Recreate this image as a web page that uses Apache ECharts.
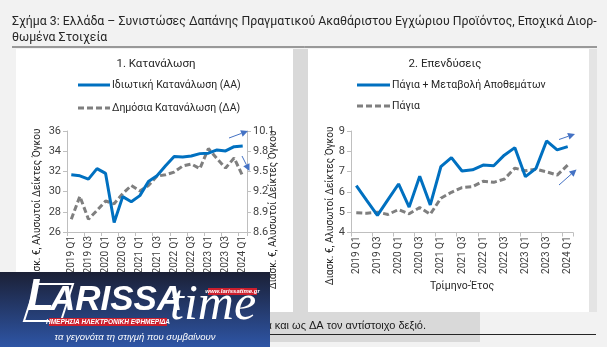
<!DOCTYPE html>
<html>
<head>
<meta charset="utf-8">
<script src="https://cdn.jsdelivr.net/npm/echarts@6/dist/echarts.min.js"></script>
<style>
html,body{margin:0;padding:0;background:#f2f2f2;}
#main{width:607px;height:347px;}
</style>
</head>
<body>
<div id="main"></div>
<script>
// ---- Data ----
var quarters = ['2019 Q1','2019 Q2','2019 Q3','2019 Q4','2020 Q1','2020 Q2','2020 Q3','2020 Q4',
  '2021 Q1','2021 Q2','2021 Q3','2021 Q4','2022 Q1','2022 Q2','2022 Q3','2022 Q4',
  '2023 Q1','2023 Q2','2023 Q3','2023 Q4','2024 Q1'];
var privateConsumption = [31.66,31.56,31.23,32.28,31.8,26.95,29.5,29.0,29.6,31.0,31.58,32.55,33.47,33.43,33.53,33.76,33.8,34.13,34.03,34.45,34.52];
var publicConsumption = [8.79,9.13,8.79,8.92,9.06,9.02,9.17,9.29,9.21,9.29,9.43,9.45,9.49,9.58,9.61,9.54,9.84,9.69,9.55,9.70,9.43];
var fixedPlusInventories = [6.31,5.57,4.84,5.62,6.39,5.25,6.77,5.36,7.24,7.69,7.03,7.09,7.32,7.29,7.81,8.18,6.75,7.16,8.51,8.07,8.23];
var fixedInvestment = [4.97,4.95,5.0,4.89,5.13,4.92,5.23,4.90,5.69,5.98,6.21,6.26,6.52,6.47,6.63,7.17,7.04,7.12,6.99,6.83,7.32];
var leftTicks = [26,28,30,32,34,36];
var rightTicks = [8.6,8.9,9.2,9.5,9.8,10.1];
var invTicks = [4,5,6,7,8,9];

var seriesNames = ['Ιδιωτική Κατανάλωση (ΑΑ)','Δημόσια Κατανάλωση (ΔΑ)','Πάγια + Μεταβολή Αποθεμάτων','Πάγια'];

var FONT = 'Roboto';
var TXT = '#404040';
var BLUE = '#0070C0';
var GRAY = '#7F7F7F';
var ARROW = '#4472C4';
var axisLineCol = '#BFBFBF';
var DASH = [6,3];

function catAxis(gi){
  return {
    type:'category', gridIndex:gi, data:quarters, boundaryGap:true,
    axisLine:{show:true,lineStyle:{color:axisLineCol,width:1}},
    axisTick:{show:true,interval:1,length:4,lineStyle:{color:axisLineCol}},
    axisLabel:{interval:1,rotate:90,fontSize:10,color:TXT,fontFamily:FONT,margin:4},
    splitLine:{show:false}
  };
}
function valAxis(gi,ticks,pos,dec){
  return {
    type:'value', gridIndex:gi, position:pos,
    min:ticks[0], max:ticks[ticks.length-1], interval:+(ticks[1]-ticks[0]).toFixed(2),
    axisLine:{show:true,lineStyle:{color:axisLineCol,width:1}},
    axisTick:{show:true,length:4,lineStyle:{color:axisLineCol}},
    axisLabel:{fontSize:11,color:TXT,fontFamily:FONT,margin:6,
      formatter:function(v){return dec?v.toFixed(1):String(Math.round(v));}},
    splitLine:{show:false}
  };
}

function arrow(x1,y1,x2,y2){
  var dx=x2-x1, dy=y2-y1, L=Math.sqrt(dx*dx+dy*dy), ux=dx/L, uy=dy/L;
  var hl=7, hw=3.5;
  var bx=x2-ux*hl, by=y2-uy*hl;
  return [
    {type:'line',z:50,shape:{x1:x1,y1:y1,x2:bx,y2:by},style:{stroke:ARROW,lineWidth:1}},
    {type:'polygon',z:50,shape:{points:[[x2,y2],[bx-uy*hw,by+ux*hw],[bx+uy*hw,by-ux*hw]]},style:{fill:ARROW}}
  ];
}
function legendItem(x1,x2,y,name,color,dash){
  var st={stroke:color,lineWidth:3};
  if(dash) st.lineDash=dash;
  return [
    {type:'line',z:5,shape:{x1:x1,y1:y,x2:x2,y2:y},style:st},
    {type:'text',z:5,x:x2+2,y:y,style:{text:name,fill:'#262626',font:'10.5px '+FONT,align:'left',verticalAlign:'middle'}}
  ];
}

var g = [];
// panel backgrounds
g.push({type:'rect',z:-10,shape:{x:293,y:49,width:15,height:263},style:{fill:'#D9D9D9'}});
g.push({type:'rect',z:-10,shape:{x:589,y:49,width:8,height:263},style:{fill:'#E4E4E4'}});
g.push({type:'rect',z:-10,shape:{x:12,y:312,width:468,height:30},style:{fill:'#D9D9D9'}});
g.push({type:'rect',z:-9,shape:{x:16,y:49,width:277,height:263},style:{fill:'#FFFFFF'}});
g.push({type:'rect',z:-9,shape:{x:308,y:49,width:281,height:263},style:{fill:'#FFFFFF'}});
// main title
g.push({type:'text',z:5,left:12,top:14,style:{text:'Σχήμα 3: Ελλάδα – Συνιστώσες Δαπάνης Πραγματικού Ακαθάριστου Εγχώριου Προϊόντος, Εποχικά Διορ-\nθωμένα Στοιχεία',fill:'#262626',font:'12.3px '+FONT,lineHeight:16}});
g.push({type:'line',z:5,shape:{x1:12,y1:47,x2:597,y2:47},style:{stroke:'#404040',lineWidth:1}});
// panel titles
g.push({type:'text',z:5,x:156,y:64,style:{text:'1. Κατανάλωση',fill:'#262626',font:'11.5px '+FONT,align:'center',verticalAlign:'middle'}});
g.push({type:'text',z:5,x:445,y:64,style:{text:'2. Επενδύσεις',fill:'#262626',font:'11.5px '+FONT,align:'center',verticalAlign:'middle'}});
// legends
g = g.concat(legendItem(78,110,85,seriesNames[0],BLUE,null), legendItem(78,110,108,seriesNames[1],GRAY,DASH));
g = g.concat(legendItem(357,390,85,seriesNames[2],BLUE,null), legendItem(357,390,106,seriesNames[3],GRAY,DASH));
// axis titles
var yName='Διασκ. €, Αλυσωτοί Δείκτες Όγκου';
g.push({type:'text',z:5,x:37,y:208,rotation:Math.PI/2,style:{text:yName,fill:'#262626',font:'10px '+FONT,align:'center',verticalAlign:'middle'}});
g.push({type:'text',z:5,x:273,y:210,rotation:Math.PI/2,style:{text:yName,fill:'#262626',font:'10px '+FONT,align:'center',verticalAlign:'middle'}});
g.push({type:'text',z:5,x:330,y:206,rotation:Math.PI/2,style:{text:yName,fill:'#262626',font:'10px '+FONT,align:'center',verticalAlign:'middle'}});
g.push({type:'text',z:5,x:462,y:286,style:{text:'Τρίμηνο-Έτος',fill:'#262626',font:'10.5px '+FONT,align:'center',verticalAlign:'middle'}});
// arrows
g = g.concat(arrow(229,138,248,131), arrow(242,156,249.5,171), arrow(559,139.5,575,134), arrow(559,185,576.5,169.5));
// note
g.push({type:'text',z:5,x:426,y:326,style:{text:'Σημείωση: Ορίζουμε ως ΑΑ τον αριστερό άξονα και ως ΔΑ τον αντίστοιχο δεξιό.',fill:'#1a1a1a',font:'11px "Liberation Sans"',align:'right',verticalAlign:'middle'}});
g.push({type:'line',z:5,shape:{x1:12,y1:334.5,x2:596,y2:334.5},style:{stroke:'#262626',lineWidth:1}});
// logo
g.push({type:'rect',z:100,shape:{x:0,y:272,width:270,height:75},style:{fill:new echarts.graphic.LinearGradient(0,0,0,1,[{offset:0,color:'#1b2036'},{offset:1,color:'#2e55a5'}])}});
g.push({type:'polygon',z:101,shape:{points:[[36,284],[73,284],[61,321],[24,321]]},style:{fill:'none',stroke:'#ffffff',lineWidth:2}});
g.push({type:'text',z:102,x:27,y:320,style:{text:'L',fill:'#ffffff',font:'italic bold 44px "Liberation Sans"',align:'left',verticalAlign:'bottom'}});
g.push({type:'text',z:102,x:50,y:318,style:{text:'ARISSA',fill:'#ffffff',font:'italic bold 35px "Liberation Sans"',align:'left',verticalAlign:'bottom'}});
g.push({type:'text',z:102,x:170,y:331,style:{text:'time',fill:'#ffffff',font:'italic 50px "Liberation Serif"',align:'left',verticalAlign:'bottom'}});
g.push({type:'rect',z:101,shape:{x:208,y:288,width:49,height:7},style:{fill:'#cc1f2d'}});
g.push({type:'text',z:102,x:232.5,y:291.5,style:{text:'www.larissatime.gr',fill:'#ffffff',font:'italic bold 6px "Liberation Sans"',align:'center',verticalAlign:'middle'}});
g.push({type:'rect',z:101,shape:{x:49,y:318,width:118,height:8},style:{fill:'#cc1f2d'}});
g.push({type:'text',z:102,x:108,y:322,style:{text:'ΗΜΕΡΗΣΙΑ ΗΛΕΚΤΡΟΝΙΚΗ ΕΦΗΜΕΡΙΔΑ',fill:'#ffffff',font:'italic bold 6.5px "Liberation Sans"',align:'center',verticalAlign:'middle'}});
g.push({type:'text',z:102,x:135,y:337,style:{text:'τα γεγονότα τη στιγμή που συμβαίνουν',fill:'#ffffff',font:'italic 9.5px "Liberation Sans"',align:'center',verticalAlign:'middle'}});

var chart = echarts.init(document.getElementById('main'), null, {renderer:'canvas'});
chart.setOption({
  backgroundColor:'#f2f2f2',
  animation:false,
  textStyle:{fontFamily:FONT},
  grid:[
    {left:67,top:131,width:180,height:101,containLabel:false},
    {left:351,top:131,width:222,height:101.5,containLabel:false}
  ],
  xAxis:[catAxis(0),catAxis(1)],
  yAxis:[valAxis(0,leftTicks,'left',false),valAxis(0,rightTicks,'right',true),valAxis(1,invTicks,'left',false)],
  series:[
    {name:seriesNames[0],type:'line',xAxisIndex:0,yAxisIndex:0,data:privateConsumption,symbol:'none',z:4,
     lineStyle:{color:BLUE,width:3},itemStyle:{color:BLUE}},
    {name:seriesNames[1],type:'line',xAxisIndex:0,yAxisIndex:1,data:publicConsumption,symbol:'none',z:3,
     lineStyle:{color:GRAY,width:3,type:DASH},itemStyle:{color:GRAY}},
    {name:seriesNames[2],type:'line',xAxisIndex:1,yAxisIndex:2,data:fixedPlusInventories,symbol:'none',z:4,
     lineStyle:{color:BLUE,width:3},itemStyle:{color:BLUE}},
    {name:seriesNames[3],type:'line',xAxisIndex:1,yAxisIndex:2,data:fixedInvestment,symbol:'none',z:3,
     lineStyle:{color:GRAY,width:3,type:DASH},itemStyle:{color:GRAY}}
  ],
  graphic:g
});
</script>
</body>
</html>
